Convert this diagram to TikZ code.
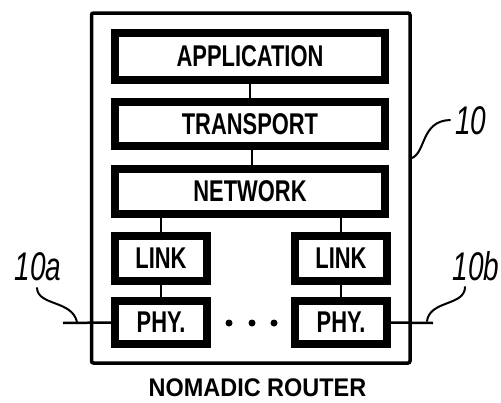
\documentclass[tikz,border=0pt]{standalone}
\usepackage{fontspec}
\setmainfont{Liberation Sans}[FakeStretch=0.73]
\newfontfamily\reffont{Liberation Sans}[FakeStretch=0.70]
\newfontfamily\capfont{Liberation Sans}[FakeStretch=0.92]
\begin{document}
\begin{tikzpicture}[x=1pt,y=-1pt,
  layer/.style={draw=black,line width=8pt,fill=white,inner sep=0pt,
    font=\fontsize{30}{30}\selectfont\bfseries},
  widebox/.style={layer,minimum width=270pt},
  smallbox/.style={layer,minimum width=92pt},
  conn/.style={line width=2.5pt},
  lead/.style={line width=2pt,line cap=round},
  reflabel/.style={font=\fontsize{40}{40}\selectfont\reffont\itshape,inner sep=0pt},
  dotmark/.style={circle,fill=black,inner sep=0pt,minimum size=7pt}
]
\useasboundingbox (0,0) rectangle (501,402);
% outer router box
\draw[line width=3.5pt,rounded corners=2pt] (91.5,13) rectangle (410,363);
% layers
\node[widebox,minimum height=47pt] (app) at (250,56.5) {APPLICATION};
\node[widebox,minimum height=44pt] (tra) at (250,124) {TRANSPORT};
\node[widebox,minimum height=45pt] (net) at (250,191.5) {NETWORK};
\node[smallbox,minimum height=45pt] (linkl) at (161,258.5) {LINK};
\node[smallbox,minimum height=45pt] (linkr) at (341,258.5) {LINK};
\node[smallbox,minimum height=43pt] (phyl) at (161,322.5) {PHY.};
\node[smallbox,minimum height=43pt] (phyr) at (341,322.5) {PHY.};
% connectors
\draw[conn] (app.south) -- (tra.north);
\draw[conn] ([xshift=2pt]tra.south) -- ([xshift=2pt]net.north);
\draw[conn] (net.south -| linkl.north) -- (linkl.north);
\draw[conn] (net.south -| linkr.north) -- (linkr.north);
\draw[conn] (linkl.south) -- (phyl.north);
\draw[conn] (linkr.south) -- (phyr.north);
% dots
\node[dotmark] (d1) at (229,323) {};
\node[dotmark] (d2) at (252,323) {};
\node[dotmark] (d3) at (274,323) {};
% external lines
\coordinate (ea) at (63,323);
\coordinate (eb) at (433,323);
\draw[conn] (ea) -- (phyl.west);
\draw[conn] (phyr.east) -- (eb);
% reference labels
\node[reflabel] (l10) at (471,121) {10};
\node[reflabel] (l10a) at (38,267) {10a};
\node[reflabel] (l10b) at (476,266) {10b};
\coordinate (s10a) at (412,158);
\coordinate (s10b) at (450,120);
\draw[lead] (s10a) .. controls (426,152) and (421,121) .. (s10b);
\coordinate (saa) at (37,288);
\coordinate (sab) at (77,322);
\draw[lead] (saa) .. controls (38,306) and (72,300) .. (sab);
\coordinate (sba) at (465,287);
\coordinate (sbb) at (427,321);
\draw[lead] (sba) .. controls (465,306) and (430,300) .. (sbb);
% caption
\node[font=\fontsize{25.5}{25.5}\selectfont\capfont\bfseries,inner sep=0pt] (cap) at (257.5,387.5) {NOMADIC ROUTER};
\end{tikzpicture}
\end{document}
